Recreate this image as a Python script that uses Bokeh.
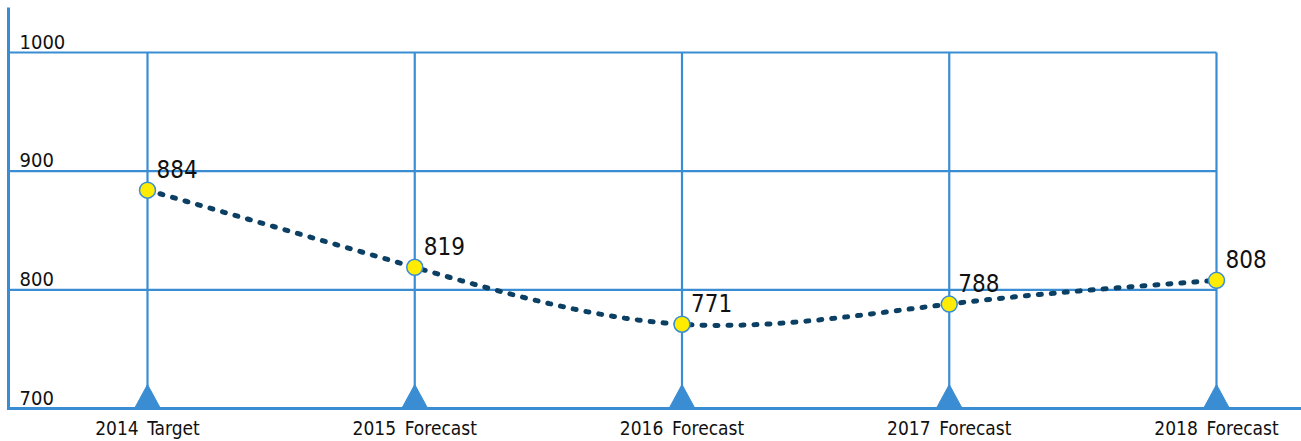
import numpy as np
from bokeh.plotting import figure
from bokeh.models import Range1d, ColumnDataSource
from bokeh.core.properties import value
from bokeh.embed import file_html
from bokeh.resources import INLINE

# ---- data ----
categories = ["2014\u2002Target", "2015\u2002Forecast", "2016\u2002Forecast",
              "2017\u2002Forecast", "2018\u2002Forecast"]
values = [884, 819, 771, 788, 808]
y_ticks = [700, 800, 900, 1000]

W, H = 1301, 441
FONT = "DejaVu Sans Condensed"
BLUE = "#3a8dd2"
NAVY = "#0b3f63"

# pixel geometry of the drawing area
px_first, px_step = 147.0, 267.25          # x pixel of first category, spacing
py_min, py_max = 408.0, 52.0               # pixel rows of y_ticks[0] and y_ticks[-1]
ppu = (py_min - py_max) / (y_ticks[-1] - y_ticks[0])   # pixels per value unit

x0 = -px_first / px_step
x1 = (W - px_first) / px_step
y0 = y_ticks[0] - (H - py_min) / ppu
y1 = y_ticks[-1] + py_max / ppu

p = figure(width=W, height=H, output_backend="svg", toolbar_location=None,
           x_range=Range1d(x0, x1), y_range=Range1d(y0, y1),
           min_border=0, outline_line_color=None, background_fill_color="white",
           border_fill_color="white")
p.axis.visible = False
p.grid.visible = False

n = len(categories)
xs = np.arange(n, dtype=float)
x_left = (8 - px_first) / px_step
y_top = y_ticks[-1] + (py_max - 7) / ppu

# grid: horizontal lines
p.segment(x0=[x_left] * (len(y_ticks) - 1), y0=y_ticks[1:],
          x1=[xs[-1]] * (len(y_ticks) - 1), y1=y_ticks[1:],
          line_color=BLUE, line_width=2.2)
# grid: vertical lines at each category
p.segment(x0=xs, y0=[y_ticks[0]] * n, x1=xs, y1=[y_ticks[-1]] * n,
          line_color=BLUE, line_width=2.2)
# axis lines
p.line([x_left, x_left, x1], [y_top, y_ticks[0], y_ticks[0]],
       line_color=BLUE, line_width=3, line_join="miter")

# triangles at the foot of each category line
half_w = 13 / px_step
tri_h = 24 / ppu
p.patches(xs=[[x - half_w, x + half_w, x] for x in xs],
          ys=[[y_ticks[0], y_ticks[0], y_ticks[0] + tri_h]] * n,
          fill_color=BLUE, line_color=BLUE, line_width=1)


# smooth curve: natural cubic spline through the values
def natural_spline(x, y, num=400):
    x = np.asarray(x, float)
    y = np.asarray(y, float)
    m = len(x)
    h = np.diff(x)
    A = np.zeros((m, m))
    b = np.zeros(m)
    A[0, 0] = A[-1, -1] = 1
    for i in range(1, m - 1):
        A[i, i - 1] = h[i - 1]
        A[i, i] = 2 * (h[i - 1] + h[i])
        A[i, i + 1] = h[i]
        b[i] = 6 * ((y[i + 1] - y[i]) / h[i] - (y[i] - y[i - 1]) / h[i - 1])
    M = np.linalg.solve(A, b)
    xx = np.linspace(x[0], x[-1], num)
    yy = np.empty_like(xx)
    for k, t in enumerate(xx):
        i = min(np.searchsorted(x, t, side="right") - 1, m - 2)
        a, c = x[i], x[i + 1]
        hi = c - a
        yy[k] = (M[i] * (c - t) ** 3 / (6 * hi) + M[i + 1] * (t - a) ** 3 / (6 * hi)
                 + (y[i] / hi - M[i] * hi / 6) * (c - t)
                 + (y[i + 1] / hi - M[i + 1] * hi / 6) * (t - a))
    return xx, yy


cx, cy = natural_spline(xs, values)
p.line(cx, cy, line_color=NAVY, line_width=5, line_dash="3 10", line_cap="round")

src = ColumnDataSource(dict(x=xs, y=values, label=[str(v) for v in values],
                            cat=categories))
p.scatter("x", "y", source=src, size=16, fill_color="#ffec00",
          line_color=BLUE, line_width=1.5)

# value labels
p.text("x", "y", text="label", source=src, x_offset=9, y_offset=-21,
       text_font=value(FONT), text_font_size="24px", text_color="#111111",
       text_baseline="middle", text_align="left")

# category labels
p.text("x", y_ticks[0], text="cat", source=src, y_offset=19,
       text_font=value(FONT), text_font_size="19px", text_color="#111111",
       text_baseline="middle", text_align="center")

# y tick labels inside the plot
p.text(x=[x_left] * len(y_ticks), y=y_ticks, text=[str(t) for t in y_ticks],
       x_offset=11, y_offset=-11,
       text_font=value(FONT), text_font_size="20px", text_color="#111111",
       text_baseline="middle", text_align="left")

open("out.html", "w").write(file_html(p, INLINE))
